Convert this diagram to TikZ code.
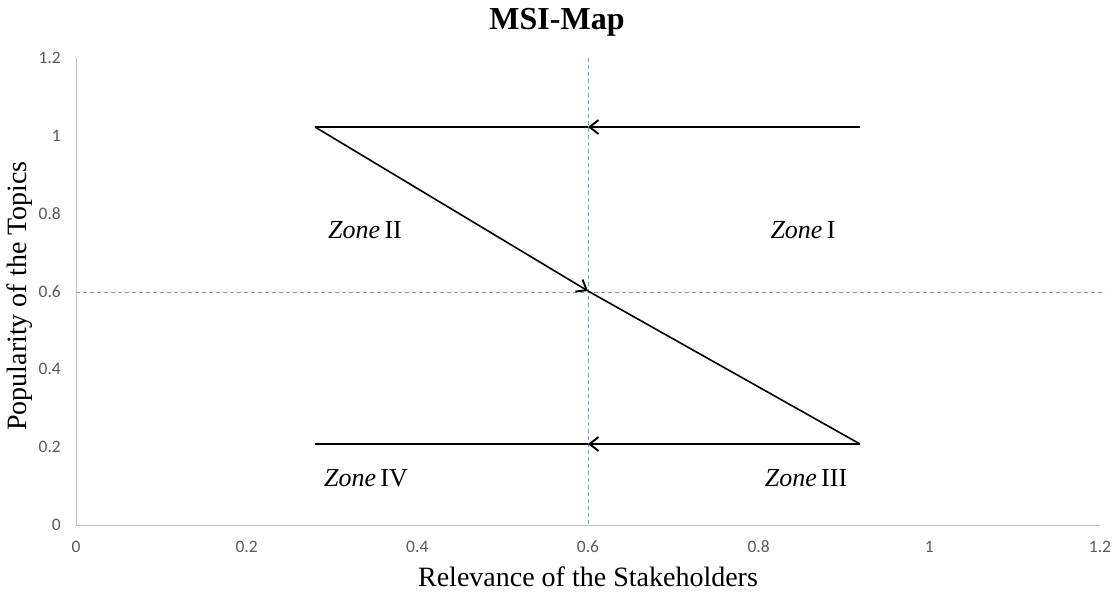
\documentclass[tikz,border=0pt]{standalone}
\usepackage{fontspec}
\setmainfont{Liberation Serif}
\newfontfamily\tickfont{Carlito}
\usetikzlibrary{arrows.meta,calc}
\definecolor{axisgray}{RGB}{191,191,191}
\definecolor{ticktext}{RGB}{89,89,89}
\definecolor{guideblue}{RGB}{120,152,214}
\begin{document}
\begin{tikzpicture}[x=1pt,y=-1pt,
  axisline/.style={draw=axisgray,line width=1pt},
  guide/.style={draw=guideblue,line width=0.9pt,dash pattern=on 4pt off 3pt},
  ticklbl/.style={font=\tickfont\fontsize{17.5}{17.5}\selectfont,text=ticktext,inner sep=0pt},
  flow/.style={draw=black,line width=1.9pt},
  flowarrow/.style={flow,-{Straight Barb[length=9pt,width=14pt,line width=1.9pt]}},
  zonelbl/.style={font=\fontsize{26}{26}\selectfont,inner sep=0pt},
  axtitle/.style={font=\fontsize{28}{28}\selectfont,inner sep=0pt}]
\useasboundingbox (0,0) rectangle (1116,592);
% axes: x from 0 to 1.2 -> 76..1100 px, y from 0 to 1.2 -> 525..58 px
\coordinate (o) at (76,525);
\coordinate (xend) at (1100,525);
\coordinate (yend) at (76,58);
\draw[axisline] (yend) -- (o) -- (xend);
% tick labels
\foreach \v/\t in {0/0,0.2/0.2,0.4/0.4,0.6/0.6,0.8/0.8,1/1,1.2/1.2} {
  \node[ticklbl,anchor=east] (yt\t) at (61,{525-\v*389.2}) {\t};
  \node[ticklbl] (xt\t) at ({76+\v*853.3},547) {\t};
}
% dashed guides at 0.6
\coordinate (gl) at (76,292);
\coordinate (gr) at (1104,292);
\coordinate (gt) at (588,58);
\coordinate (gb) at (588,525);
\draw[guide] (gl) -- (gr);
\draw[guide] (gt) -- (gb);
% flow path
\coordinate (a) at (860,127);
\coordinate (b) at (315,127);
\coordinate (c) at (860,444);
\coordinate (d) at (315,444);
\coordinate (mtop) at (588,127);
\coordinate (mbot) at (588,444);
\coordinate (mmid) at (588,291);
\draw[flowarrow] (a) -- (mtop);
\draw[flow] (mtop) -- (b);
\draw[flowarrow,line width=1.6pt] (b) -- (mmid);
\draw[flow,line width=1.6pt] (mmid) -- (c);
\draw[flowarrow] (c) -- (mbot);
\draw[flow] (mbot) -- (d);
% zone labels
\node[zonelbl] (z2) at (365,230) {\textit{Zone}\,II};
\node[zonelbl] (z1) at (803,230) {\textit{Zone}\,I};
\node[zonelbl] (z4) at (366,478) {\textit{Zone}\,IV};
\node[zonelbl] (z3) at (806,478) {\textit{Zone}\,III};
% titles
\node[font=\bfseries\fontsize{32}{32}\selectfont,inner sep=0pt] (title) at (557,22) {MSI-Map};
\node[axtitle] (xtitle) at (588,577) {Relevance of the Stakeholders};
\node[axtitle,rotate=90] (ytitle) at (20,296) {Popularity of the Topics};
\end{tikzpicture}
\end{document}
